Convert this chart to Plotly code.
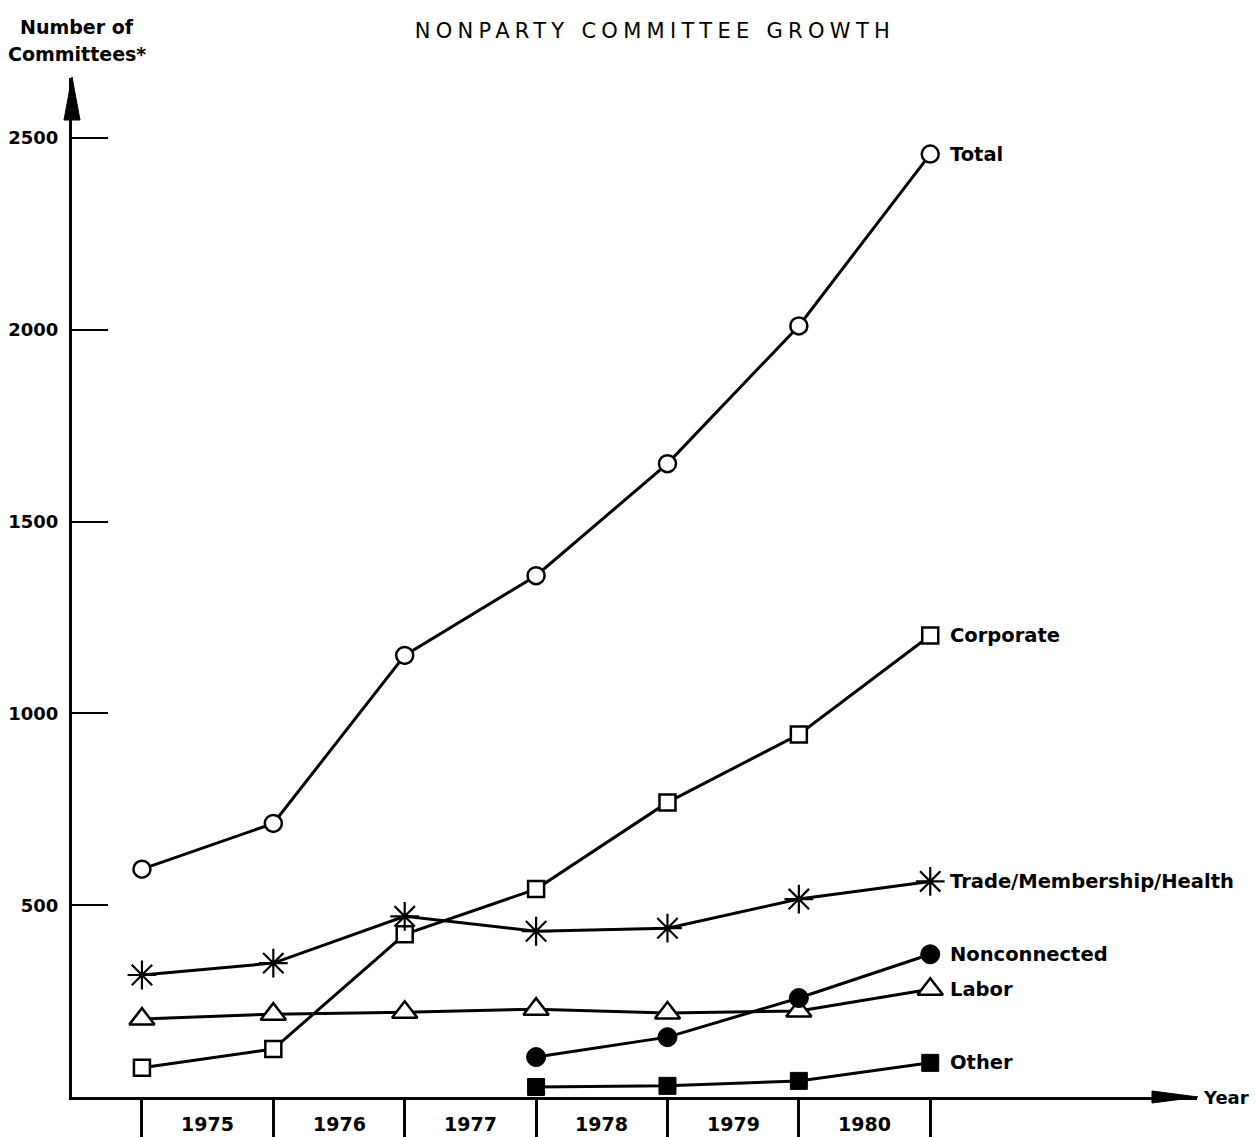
import plotly.graph_objects as go

# ---- data ----
positions = [0, 1, 2, 3, 4, 5, 6]
year_labels = ["1975", "1976", "1977", "1978", "1979", "1980"]
total = [594, 713, 1151, 1359, 1651, 2010, 2458]
corporate = [76, 125, 424, 542, 768, 945, 1203]
trade = [318, 349, 471, 432, 440, 516, 562]
labor = [203, 216, 221, 229, 219, 224, 281]
nonconn_pos = [3, 4, 5, 6]
nonconnected = [104, 156, 258, 372]
other_pos = [3, 4, 5, 6]
other = [26, 29, 42, 89]
y_ticks = [500, 1000, 1500, 2000, 2500]

W, H = 1257, 1137
ML, MR, MT, MB = 72, 60, 78, 40
PW = W - ML - MR
PH = H - MT - MB
FONT = "DejaVu Sans"

fig = go.Figure()

def add_series(x, y, symbol, fill, size, lw, name, label):
    fig.add_trace(go.Scatter(
        x=x, y=y, mode="lines+markers", name=name,
        line=dict(color="black", width=3),
        marker=dict(symbol=symbol, size=size, color=fill,
                    line=dict(color="black", width=lw)),
        cliponaxis=False, showlegend=False,
    ))
    fig.add_annotation(x=x[-1], y=y[-1], xref="x", yref="y", text=f"<b>{label}</b>",
                       showarrow=False, xanchor="left", yanchor="middle", xshift=18,
                       font=dict(family=FONT, size=19.5, color="black"))

add_series(positions, labor, "triangle-up", "white", 22, 2.5, "Labor", "Labor")
add_series(positions, corporate, "square", "white", 16, 2.5, "Corporate", "Corporate")
add_series(positions, trade, "asterisk-open", "black", 24, 2.2, "Trade", "Trade/Membership/Health")
add_series(positions, total, "circle", "white", 17, 2.5, "Total", "Total")
add_series(nonconn_pos, nonconnected, "circle", "black", 19, 1, "Nonconnected", "Nonconnected")
add_series(other_pos, other, "square", "black", 17, 1, "Other", "Other")

def px2paper_x(px):
    return (px - ML) / PW

def px2paper_y(py):
    return (H - MB - py) / PH

# year labels between ticks
for i, yl in enumerate(year_labels):
    fig.add_annotation(x=positions[i] + 0.5, y=px2paper_y(1124), xref="x", yref="paper",
                       text=f"<b>{yl}</b>", showarrow=False, yanchor="middle",
                       font=dict(family=FONT, size=19, color="black"))

fig.add_annotation(x=1, y=0, xref="paper", yref="paper", text="<b>Year</b>",
                   showarrow=False, xanchor="left", yanchor="middle", xshift=4,
                   font=dict(family=FONT, size=18, color="black"))

for txt, py in [("Number of", 27), ("Committees*", 54)]:
    fig.add_annotation(x=px2paper_x(77), y=px2paper_y(py), xref="paper", yref="paper",
                       text=f"<b>{txt}</b>", showarrow=False,
                       xanchor="center", yanchor="middle",
                       font=dict(family=FONT, size=19, color="black"))

# arrowheads (decoration)
ya_tip = (px2paper_x(72), px2paper_y(77))
ya_l = (px2paper_x(64), px2paper_y(120))
ya_r = (px2paper_x(80), px2paper_y(120))
xa_tip = (px2paper_x(1198), px2paper_y(1097))
xa_t = (px2paper_x(1152), px2paper_y(1091))
xa_b = (px2paper_x(1152), px2paper_y(1103))
for a, b, c in [(ya_tip, ya_l, ya_r), (xa_tip, xa_t, xa_b)]:
    fig.add_shape(type="path", xref="paper", yref="paper",
                  path=f"M {a[0]} {a[1]} L {b[0]} {b[1]} L {c[0]} {c[1]} Z",
                  fillcolor="black", line=dict(color="black", width=1))

x_lo = (72 - 142) / 131.5
x_hi = (1198 - 142) / 131.5
y_hi = (1097 - 77) / 0.384

fig.update_layout(
    width=W, height=H,
    margin=dict(l=ML, r=MR, t=MT, b=MB, autoexpand=False),
    paper_bgcolor="white", plot_bgcolor="white",
    title=dict(text="NONPARTY COMMITTEE GROWTH", x=0.521, xanchor="center",
               y=1 - 31 / H, yanchor="middle",
               font=dict(family=FONT, size=21, color="black")),
    xaxis=dict(range=[x_lo, x_hi], showgrid=False, zeroline=False, automargin=False,
               showline=True, linecolor="black", linewidth=3,
               tickvals=positions, ticks="outside", ticklen=40, tickwidth=2.5,
               tickcolor="black", showticklabels=False),
    yaxis=dict(range=[0, y_hi], showgrid=False, zeroline=False, automargin=False,
               showline=True, linecolor="black", linewidth=3,
               tickvals=y_ticks, ticks="inside", ticklen=36, tickwidth=2,
               tickcolor="black", ticklabelstandoff=7,
               tickfont=dict(family=FONT, size=18, color="black", weight="bold")),
)

post = ("document.body.style.margin='0';"
        "document.body.style.overflow='hidden';"
        "var t=document.querySelector('.gtitle');"
        "if(t){t.style.letterSpacing='5.3px';}")
fig.write_html("out.html", post_script=post, config={"displayModeBar": False})
